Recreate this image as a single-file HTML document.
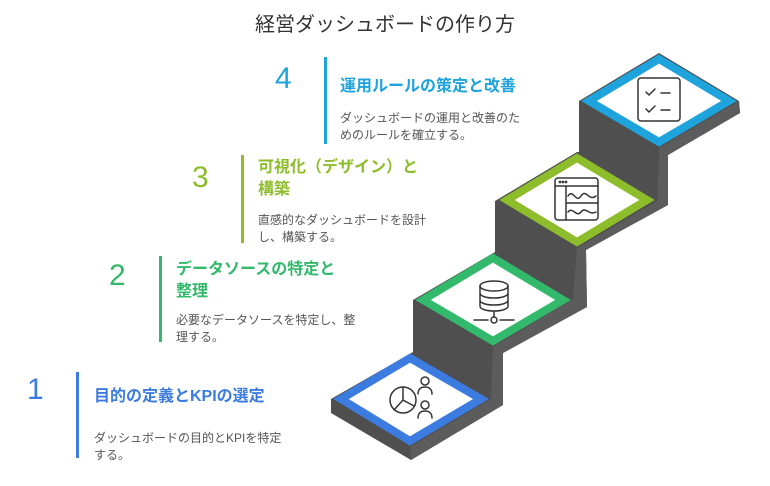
<!DOCTYPE html>
<html><head><meta charset="utf-8"><style>
body{margin:0;width:770px;height:486px;background:#fff;position:relative;overflow:hidden;font-family:"Liberation Sans","Noto Sans CJK JP",sans-serif}
.a{position:absolute;white-space:nowrap}
.n{font-size:30px;line-height:30px}
.h{font-size:16px;line-height:22px;font-weight:bold}
.d{font-size:12px;line-height:17px;color:#555}
.b{position:absolute;width:3px}
</style></head><body>
<div class="a" style="left:0;width:770px;top:12px;text-align:center;font-size:20px;color:#333;line-height:26px">経営ダッシュボードの作り方</div>

<div class="a n" style="left:275px;top:64px;color:#1ea3dc">4</div>
<div class="b" style="left:324px;top:57px;height:87px;background:#1ea3dc"></div>
<div class="a h" style="left:340px;top:76px;color:#1ea3dc">運用ルールの策定と改善</div>
<div class="a d" style="left:340px;top:110px">ダッシュボードの運用と改善のた<br>めのルールを確立する。</div>

<div class="a n" style="left:192px;top:163px;color:#8dbd2b">3</div>
<div class="b" style="left:241px;top:155px;height:88px;background:#8dbd2b"></div>
<div class="a h" style="left:258px;top:157px;color:#8dbd2b">可視化（デザイン）と<br>構築</div>
<div class="a d" style="left:258px;top:212px">直感的なダッシュボードを設計<br>し、構築する。</div>

<div class="a n" style="left:109px;top:261px;color:#33b96b">2</div>
<div class="b" style="left:159px;top:256px;height:86px;background:#33b96b"></div>
<div class="a h" style="left:176px;top:259px;color:#33b96b">データソースの特定と<br>整理</div>
<div class="a d" style="left:176px;top:312px">必要なデータソースを特定し、整<br>理する。</div>

<div class="a n" style="left:27px;top:375px;color:#3c7be0">1</div>
<div class="b" style="left:76px;top:372px;height:86px;background:#3c7be0"></div>
<div class="a h" style="left:94px;top:386px;color:#3c7be0">目的の定義とKPIの選定</div>
<div class="a d" style="left:94px;top:430px">ダッシュボードの目的とKPIを特定<br>する。</div>

<svg class="a" style="left:0;top:0" width="770" height="486" viewBox="0 0 770 486">
<polygon fill="#4f4f4f" points="579,101 659,53 739,101 740,113 668,155 668,205 586,250 587,307 503,353 503,405 411,460 331,413 331,399 413,352 413,300 495,252 495,201 577,152 579,152"/>
<polygon fill="#5c5c5c" points="659,148 739,101 740,113 668,155 668,205 657,201 659,160"/>
<polygon fill="#5c5c5c" points="577,248 657,201 668,205 586,250 587,307 573,299"/>
<polygon fill="#5c5c5c" points="493,347 573,299 587,307 503,353 503,405 491,399"/>
<polygon fill="#5c5c5c" points="410,447 491,399 503,405 411,460"/>
<g fill="#fff" stroke-width="8" stroke-linejoin="miter">
<polygon stroke="#1ea3dc" points="659,59 729,101 659,142 589,101"/>
<polygon stroke="#8dbd2b" points="577,158 647,200 577,242 507,200"/>
<polygon stroke="#33b96b" points="493,258 563,300 493,341 423,300"/>
<polygon stroke="#3c7be0" points="410,358 481,399 410,441 341,399"/>
</g>
<g fill="none" stroke="#333" stroke-width="1.5" stroke-linecap="round">
<rect x="638" y="78" width="42" height="43" rx="3"/>
<path d="M646 92l3 3 6-6M661 93h9M646 109l3 3 6-6M661 110h9"/>
<rect x="555" y="178" width="43" height="42" rx="3"/>
<path d="M555 186h43M566 186v34M566 203h32M568 196c5-8 8 8 13 0s8 6 15 0M568 212c5-6 8 6 13 0s8 4 15 0"/>
<circle cx="560" cy="182" r=".6"/><circle cx="563" cy="182" r=".6"/><circle cx="566" cy="182" r=".6"/>
<ellipse cx="494" cy="286" rx="14" ry="5"/>
<path d="M480 286v20c0 3 6 5 14 5s14-2 14-5v-20M480 293c0 3 6 5 14 5s14-2 14-5M480 300c0 3 6 5 14 5s14-2 14-5M494 311v6M474 320h14M500 320h14"/>
<circle cx="494" cy="320" r="3"/>
<circle cx="403" cy="400" r="13"/>
<path d="M403 387v13l11 6M403 400l-9 10"/>
<circle cx="425" cy="381" r="4"/><path d="M418 394c0-5 3-7 7-7s7 2 7 7"/>
<circle cx="425" cy="405" r="4"/><path d="M418 418c0-5 3-7 7-7s7 2 7 7"/>
</g>
</svg>
</body></html>
